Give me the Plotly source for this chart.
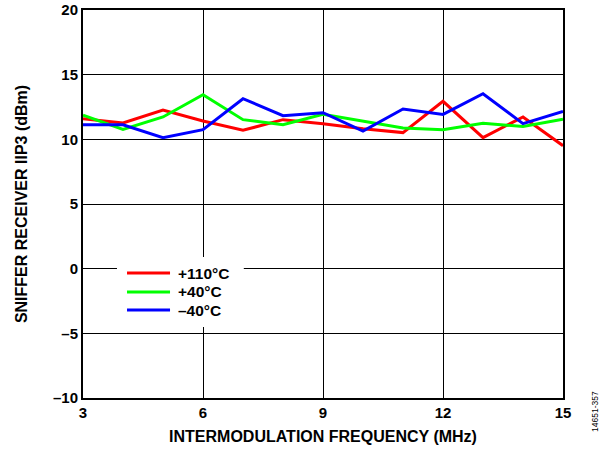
import plotly.graph_objects as go

freq = [3, 4, 5, 6, 7, 8, 9, 10, 11, 12, 13, 14, 15]
t_110 = [11.6, 11.26, 12.27, 11.42, 10.7, 11.52, 11.21, 10.82, 10.52, 12.94, 10.13, 11.73, 9.51]
t_40 = [11.86, 10.77, 11.73, 13.45, 11.52, 11.13, 11.93, 11.39, 10.88, 10.75, 11.24, 11.0, 11.55]
t_m40 = [11.13, 11.13, 10.13, 10.75, 13.14, 11.83, 12.06, 10.64, 12.35, 11.93, 13.53, 11.21, 12.16]

x_ticks = [3, 6, 9, 12, 15]
y_ticks = [-10, -5, 0, 5, 10, 15, 20]
y_ticktext = ["–10", "–5", "0", "5", "10", "15", "20"]

names = ["+110°C", "+40°C", "–40°C"]
colors = ["#FF0000", "#00FF00", "#0000FF"]

fig = go.Figure()
for name, ys, c in zip(names, [t_110, t_40, t_m40], colors):
    fig.add_trace(go.Scatter(x=freq, y=ys, mode="lines", name=name,
                             line=dict(color=c, width=3), showlegend=False))

font_family = "Liberation Sans, Arial, sans-serif"

# legend (drawn as shapes + text in paper coordinates)
fig.add_shape(type="rect", xref="paper", yref="paper",
              x0=0.0708, x1=0.335, y0=0.183, y1=0.3634,
              fillcolor="white", line=dict(width=0), layer="above")
legend_rows = [0.322, 0.2732, 0.2268]
for name, c, yy in zip(names, colors, legend_rows):
    fig.add_shape(type="line", xref="paper", yref="paper",
                  x0=0.0917, x1=0.1813, y0=yy, y1=yy,
                  line=dict(color=c, width=3), layer="above")
    fig.add_annotation(text=name, xref="paper", yref="paper",
                       x=0.194, y=yy, xanchor="left", yanchor="middle",
                       showarrow=False,
                       font=dict(size=15.5, weight="bold", family=font_family, color="black"))

fig.update_layout(
    width=605, height=451,
    margin=dict(l=83, r=42, t=10, b=53),
    paper_bgcolor="white", plot_bgcolor="white",
    font=dict(family=font_family, color="black", size=15),
    showlegend=False,
)
fig.update_xaxes(
    range=[3, 15], tickvals=x_ticks, ticktext=[str(v) for v in x_ticks],
    showgrid=True, gridcolor="black", gridwidth=1,
    showline=True, linecolor="black", linewidth=2, mirror=True,
    ticks="", tickfont=dict(size=15, weight="bold"),
    title=dict(text="INTERMODULATION FREQUENCY (MHz)",
               font=dict(size=16, weight="bold"), standoff=11),
    zeroline=False, automargin=False,
)
fig.update_yaxes(
    range=[-10, 20], tickvals=y_ticks, ticktext=y_ticktext,
    showgrid=True, gridcolor="black", gridwidth=1,
    showline=True, linecolor="black", linewidth=2, mirror=True,
    ticks="", tickfont=dict(size=15, weight="bold"),
    title=dict(text="SNIFFER RECEIVER IIP3 (dBm)",
               font=dict(size=16, weight="bold"), standoff=21),
    zeroline=False, automargin=False,
)
fig.add_annotation(text="14651-357", x=1.0, y=0.0, xref="paper", yref="paper",
                   xanchor="center", yanchor="middle", xshift=32, yshift=-14,
                   textangle=-90, showarrow=False,
                   font=dict(size=8.5, family=font_family, color="black"))

fig.write_html("out.html", config={"displayModeBar": False},
               post_script="document.body.style.margin='0';")
